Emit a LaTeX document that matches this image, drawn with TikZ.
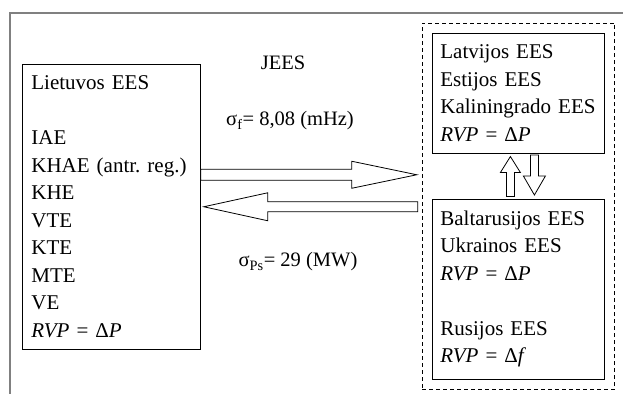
\documentclass[tikz,border=0pt]{standalone}
\usepackage{fontspec}
\setmainfont{Liberation Serif}
\usetikzlibrary{fit}
\frenchspacing

\tikzset{
  sysbox/.style={draw, line width=0.8pt, align=left, anchor=north west,
    inner xsep=8pt, inner ysep=11.5pt, font=\fontsize{21}{27.5}\selectfont},
  lbl/.style={font=\fontsize{20.5}{24}\selectfont, inner sep=0pt},
  blk/.style={draw, line width=0.8pt, fill=white, line join=miter},
}

\begin{document}
\begin{tikzpicture}[x=1pt,y=-1pt]
\useasboundingbox (0,0) rectangle (623,394);
% frame
\draw[gray, line width=1.5pt] (623,13) -- (10,13) -- (10,394);

% Lithuania
\node[sysbox, text width=160pt, inner xsep=9pt] (lt) at (22,64)
  {Lietuvos EES\\[27.5pt]IAE\\KHAE (antr.\ reg.)\\KHE\\VTE\\KTE\\MTE\\VE\\\textit{RVP} = Δ\textit{P}};

% neighbours
\node[sysbox, text width=156pt] (lv) at (432,33)
  {Latvijos EES\\Estijos EES\\Kaliningrado EES\\\textit{RVP} = Δ\textit{P}};
\node[sysbox, text width=156pt] (by) at (432,199)
  {Baltarusijos EES\\Ukrainos EES\\\textit{RVP} = Δ\textit{P}\\[27.5pt]Rusijos EES\\\textit{RVP} = Δ\textit{f}};
\node[draw, dashed, dash pattern=on 4pt off 3pt, line width=0.8pt, fit=(lv)(by), inner sep=10pt] (ext) {};

\node[lbl] (jees) at (283,63) {JEES};
\node[lbl] (sf) at (290,121) {σ\textsubscript{f}= 8,08 (mHz)};
\node[lbl] (sp) at (298,262) {σ\textsubscript{Ps}= 29 (MW)};

% exchange arrows
\draw[blk] (lt.east) ++(0,-37.5) -- ++(151,0) -- ++(0,-8) -- ++(65,13.5)
  -- ++(-65,13.5) -- ++(0,-8) -- ++(-151,0) -- cycle;
\draw[blk] (lt.east) ++(3,0) -- ++(64,-14) -- ++(0,9) -- ++(150,0)
  -- ++(0,10) -- ++(-150,0) -- ++(0,9) -- cycle;

% between neighbours
\draw[blk] (lv.south) ++(-8,3) -- ++(10,16) -- ++(-6,0) -- ++(0,24)
  -- ++(-8,0) -- ++(0,-24) -- ++(-6,0) -- cycle;
\draw[blk] (by.north) ++(16,-4) -- ++(11,-19) -- ++(-7,0) -- ++(0,-21)
  -- ++(-8,0) -- ++(0,21) -- ++(-7,0) -- cycle;
\end{tikzpicture}
\end{document}
